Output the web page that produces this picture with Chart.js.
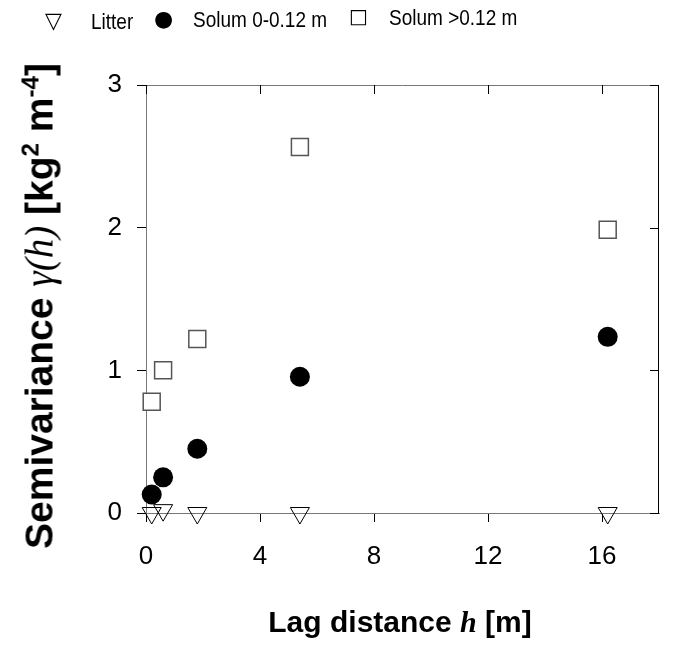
<!DOCTYPE html>
<html>
<head>
<meta charset="utf-8">
<script src="https://cdn.jsdelivr.net/npm/chart.js@4/dist/chart.umd.min.js"></script>
<style>
  body { margin: 0; background: #fff; }
  #wrap { position: relative; width: 686px; height: 666px; font-family: "Liberation Sans", Arial, sans-serif; }
  #chart { position: absolute; left: 0; top: 0; }
  .lg { position: absolute; font-size: 19px; color: #000; white-space: nowrap; line-height: 1; transform: scaleY(1.2); transform-origin: left top; }
  .mk { position: absolute; font-family: "DejaVu Sans", sans-serif; color: #000; line-height: 1; }
  .title { position: absolute; font-weight: bold; white-space: nowrap; line-height: 1; }
  .title i { font-family: "Liberation Serif", "Times New Roman", serif; }
  #ytitle { left: 39px; top: 306px; font-size: 39px; transform: translate(-50%, -50%) rotate(-90deg); }
  #xtitle { left: 400px; top: 622px; font-size: 30px; transform: translate(-50%, -50%); }
  sup { font-size: 0.62em; vertical-align: 0.6em; line-height: 0; }
</style>
</head>
<body>
<div id="wrap">
  <canvas id="chart" width="686" height="666"></canvas>
  <span class="mk" style="left:45px;top:10px;font-size:22px;">▽</span>
  <span class="lg" style="left:91px;top:10px;">Litter</span>
  <span class="mk" style="left:154px;top:8px;font-size:22px;">●</span>
  <span class="lg" style="left:193px;top:8px;">Solum 0-0.12 m</span>
  <span class="mk" style="left:349px;top:6px;font-size:20px;">□</span>
  <span class="lg" style="left:389px;top:6px;">Solum &gt;0.12 m</span>
  <div class="title" id="ytitle">Semivariance <i style="font-weight:normal">γ(h)</i> [kg<sup>2</sup> m<sup>-4</sup>]</div>
  <div class="title" id="xtitle">Lag distance <i>h</i> [m]</div>
</div>
<script>
// lag distance h [m]
const lagDistance = [0.2, 0.6, 1.8, 5.4, 16.2];
// semivariance per layer
const litter = [0, 0.02, 0, 0, 0];
const solumTop = [0.13, 0.25, 0.45, 0.955, 1.235];
const solumDeep = [0.78, 1.0, 1.22, 2.565, 1.985];

const xTickValues = [0, 4, 8, 12, 16];
const yTickValues = [0, 1, 2, 3];

const toPoints = (ys) => lagDistance.map((x, i) => ({ x, y: ys[i] }));

const tickFont = { family: "Liberation Sans", size: 26 };

// closes the box on top/right, with inward ticks
const frame = {
  id: "frame",
  beforeDatasetsDraw(chart) {
    const { ctx, chartArea: a, scales } = chart;
    ctx.save();
    ctx.lineWidth = 1;
    ctx.strokeStyle = "#777";
    ctx.beginPath();
    ctx.moveTo(a.left, a.top + 0.5);
    ctx.lineTo(a.right, a.top + 0.5);
    ctx.stroke();
    ctx.strokeStyle = "#000";
    ctx.beginPath();
    ctx.moveTo(a.right - 0.5, a.top);
    ctx.lineTo(a.right - 0.5, a.bottom);
    xTickValues.forEach((v) => {
      const px = Math.round(scales.x.getPixelForValue(v)) + 0.5;
      ctx.moveTo(px, a.top);
      ctx.lineTo(px, a.top + 9);
    });
    yTickValues.forEach((v) => {
      const py = Math.round(scales.y.getPixelForValue(v)) + 0.5;
      ctx.moveTo(a.right, py);
      ctx.lineTo(a.right - 9, py);
    });
    ctx.stroke();
    ctx.restore();
  },
};

new Chart(document.getElementById("chart"), {
  type: "scatter",
  data: {
    datasets: [
      {
        label: "Litter",
        data: toPoints(litter),
        pointStyle: "triangle",
        rotation: 180,
        radius: 11,
        backgroundColor: "rgba(255,255,255,0)",
        borderColor: "#000",
        borderWidth: 1,
        clip: false,
      },
      {
        label: "Solum 0-0.12 m",
        data: toPoints(solumTop),
        pointStyle: "circle",
        radius: 10,
        backgroundColor: "#000",
        borderColor: "#000",
        borderWidth: 0,
        clip: false,
      },
      {
        label: "Solum >0.12 m",
        data: toPoints(solumDeep),
        pointStyle: "rect",
        radius: 12,
        backgroundColor: "#fff",
        borderColor: "#555",
        borderWidth: 1.5,
        clip: false,
      },
    ],
  },
  options: {
    responsive: false,
    animation: false,
    events: [],
    layout: { padding: { left: 0, right: 27, top: 85, bottom: 0 } },
    plugins: { legend: { display: false }, tooltip: { enabled: false } },
    scales: {
      x: {
        type: "linear",
        min: 0,
        max: 18,
        afterBuildTicks: (axis) => { axis.ticks = xTickValues.map((value) => ({ value })); },
        afterFit: (axis) => { axis.height = 153; },
        ticks: { color: "#000", padding: 19, maxRotation: 0, font: tickFont },
        grid: { drawOnChartArea: false, tickLength: 9, color: "#000" },
        border: { color: "#777", width: 1 },
      },
      y: {
        min: 0,
        max: 3,
        afterBuildTicks: (axis) => { axis.ticks = yTickValues.map((value) => ({ value })); },
        afterFit: (axis) => { axis.width = 146; },
        ticks: { color: "#000", padding: 15, font: tickFont },
        grid: { drawOnChartArea: false, tickLength: 9, color: "#000" },
        border: { color: "#777", width: 1 },
      },
    },
  },
  plugins: [frame],
});
</script>
</body>
</html>
